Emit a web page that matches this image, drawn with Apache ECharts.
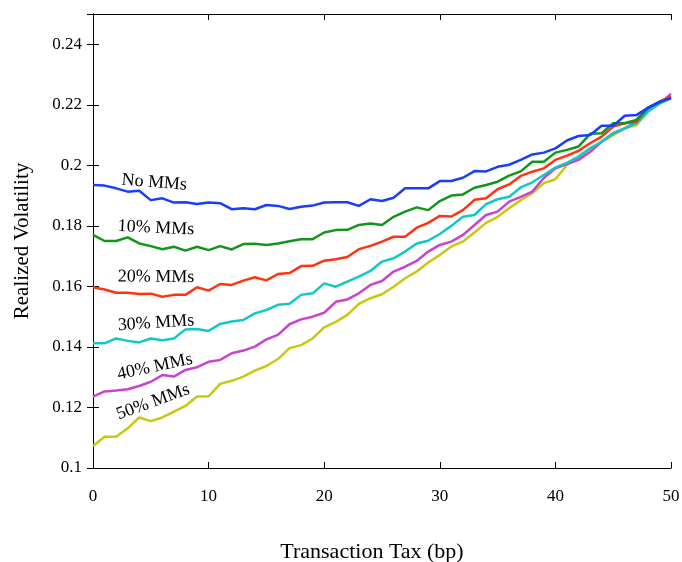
<!DOCTYPE html>
<html>
<head>
<meta charset="utf-8">
<script src="https://cdn.jsdelivr.net/npm/echarts@6/dist/echarts.min.js"></script>
<style>
html, body { margin: 0; padding: 0; background: #fff; }
#chart { width: 682px; height: 562px; }
</style>
</head>
<body>
<div id="chart"></div>
<script>
// transaction tax in bp, 0..50
const taxBp = [];
for (let i = 0; i <= 50; i++) taxBp.push(i);

const noMMs = [0.1935, 0.1933, 0.1924, 0.1913, 0.1916, 0.1885, 0.1891, 0.1877, 0.1878, 0.1872,
  0.1877, 0.1875, 0.1855, 0.1858, 0.1855, 0.1869, 0.1866, 0.1856, 0.1863, 0.1867,
  0.1877, 0.1878, 0.1878, 0.1866, 0.1888, 0.1882, 0.1893, 0.1924, 0.1924, 0.1924,
  0.1948, 0.1948, 0.1959, 0.1981, 0.1980, 0.1995, 0.2002, 0.2018, 0.2036, 0.2042,
  0.2056, 0.2082, 0.2097, 0.2100, 0.2131, 0.2131, 0.2164, 0.2166, 0.2190, 0.2210, 0.2222];
const mm10 = [0.1770, 0.1750, 0.1750, 0.1762, 0.1742, 0.1733, 0.1723, 0.1731, 0.1718, 0.1731,
  0.1720, 0.1733, 0.1722, 0.1740, 0.1741, 0.1737, 0.1742, 0.1749, 0.1756, 0.1756,
  0.1778, 0.1786, 0.1787, 0.1803, 0.1808, 0.1803, 0.1830, 0.1847, 0.1861, 0.1852,
  0.1882, 0.1900, 0.1904, 0.1926, 0.1935, 0.1946, 0.1966, 0.1980, 0.2012, 0.2012,
  0.2042, 0.2051, 0.2062, 0.2104, 0.2106, 0.2139, 0.2139, 0.2150, 0.2190, 0.2208, 0.2222];
const mm20 = [0.1597, 0.1590, 0.1579, 0.1579, 0.1575, 0.1576, 0.1566, 0.1572, 0.1572, 0.1597,
  0.1586, 0.1608, 0.1605, 0.1619, 0.1630, 0.1620, 0.1641, 0.1644, 0.1667, 0.1668,
  0.1685, 0.1690, 0.1697, 0.1723, 0.1734, 0.1748, 0.1764, 0.1764, 0.1794, 0.1810,
  0.1833, 0.1831, 0.1852, 0.1886, 0.1891, 0.1921, 0.1937, 0.1965, 0.1979, 0.1990,
  0.2018, 0.2032, 0.2048, 0.2073, 0.2095, 0.2128, 0.2139, 0.2144, 0.2190, 0.2210, 0.2227];
const mm30 = [0.1412, 0.1412, 0.1428, 0.1420, 0.1415, 0.1428, 0.1422, 0.1428, 0.1458, 0.1459,
  0.1453, 0.1476, 0.1484, 0.1489, 0.1511, 0.1522, 0.1539, 0.1543, 0.1572, 0.1577,
  0.1610, 0.1599, 0.1616, 0.1632, 0.1651, 0.1682, 0.1693, 0.1715, 0.1742, 0.1751,
  0.1773, 0.1800, 0.1830, 0.1836, 0.1872, 0.1888, 0.1896, 0.1927, 0.1944, 0.1968,
  0.1993, 0.2008, 0.2029, 0.2056, 0.2078, 0.2106, 0.2122, 0.2139, 0.2177, 0.2204, 0.2222];
const mm40 = [0.1236, 0.1253, 0.1256, 0.1260, 0.1271, 0.1285, 0.1307, 0.1302, 0.1324, 0.1333,
  0.1351, 0.1357, 0.1379, 0.1388, 0.1401, 0.1425, 0.1440, 0.1475, 0.1491, 0.1500,
  0.1513, 0.1549, 0.1557, 0.1577, 0.1605, 0.1618, 0.1649, 0.1665, 0.1684, 0.1715,
  0.1737, 0.1748, 0.1770, 0.1803, 0.1836, 0.1847, 0.1880, 0.1896, 0.1913, 0.1958,
  0.1990, 0.2004, 0.2018, 0.2044, 0.2078, 0.2106, 0.2122, 0.2144, 0.2180, 0.2204, 0.2236];
const mm50 = [0.1073, 0.1103, 0.1103, 0.1131, 0.1167, 0.1155, 0.1167, 0.1186, 0.1205, 0.1236,
  0.1237, 0.1278, 0.1288, 0.1302, 0.1322, 0.1337, 0.1360, 0.1396, 0.1406, 0.1428,
  0.1465, 0.1483, 0.1506, 0.1542, 0.1561, 0.1574, 0.1599, 0.1627, 0.1649, 0.1679,
  0.1704, 0.1732, 0.1748, 0.1778, 0.1810, 0.1830, 0.1858, 0.1885, 0.1908, 0.1941,
  0.1954, 0.2001, 0.2023, 0.2056, 0.2078, 0.2100, 0.2122, 0.2133, 0.2177, 0.2210, 0.2227];

const seriesNames = ['No MMs', '10% MMs', '20% MMs', '30% MMs', '40% MMs', '50% MMs'];
const seriesData = [noMMs, mm10, mm20, mm30, mm40, mm50];
const colors = ['#1a3cff', '#11951a', '#ff3311', '#11c8c8', '#c844d0', '#c8c811'];

// where the in-plot labels sit (data coords) and their tilt in degrees
const labelX = [5.3, 5.45, 5.45, 5.45, 5.35, 5.2];
const labelY = [0.1943, 0.1793, 0.1631, 0.1479, 0.1334, 0.1218];
const labelTilt = [-4.4, -2.5, -0.5, 3.7, 12, 20];

const font = 'Liberation Serif, Times New Roman, serif';

const chart = echarts.init(document.getElementById('chart'));

const axisLine = { show: true, lineStyle: { color: '#000', width: 1 } };
const tick = { show: true, inside: true, length: 6, lineStyle: { color: '#000' } };

chart.setOption({
  animation: false,
  backgroundColor: '#fff',
  grid: { left: 93, right: 11, top: 14, bottom: 94, outerBoundsMode: 'none' },
  xAxis: [{
    type: 'value', min: 0, max: 50, interval: 10,
    name: 'Transaction Tax (bp)', nameLocation: 'middle', nameGap: 73,
    nameTextStyle: { fontFamily: font, fontSize: 22, color: '#000', padding: [0, 20, 0, 0] },
    axisLine: axisLine, axisTick: tick, splitLine: { show: false },
    axisLabel: { color: '#000', fontFamily: font, fontSize: 17, margin: 20 }
  }, {
    type: 'value', min: 0, max: 50, interval: 10, position: 'top',
    axisLine: axisLine, axisTick: tick, splitLine: { show: false },
    axisLabel: { show: false }
  }],
  yAxis: [{
    type: 'value', min: 0.1, max: 0.25, interval: 0.02,
    name: 'Realized Volatility', nameLocation: 'middle', nameGap: 60,
    nameTextStyle: { fontFamily: font, fontSize: 21, color: '#000' },
    axisLine: axisLine, axisTick: tick, splitLine: { show: false },
    axisLabel: { color: '#000', fontFamily: font, fontSize: 17, margin: 11, showMaxLabel: false }
  }, {
    type: 'value', min: 0.1, max: 0.25, interval: 0.02, position: 'right',
    axisLine: axisLine, axisTick: tick, splitLine: { show: false },
    axisLabel: { show: false }
  }],
  series: seriesData.map((d, i) => ({
    name: seriesNames[i],
    type: 'line',
    data: d.map((v, j) => [taxBp[j], v]),
    showSymbol: false,
    lineStyle: { color: colors[i], width: 2.5 },
    z: 10 - i
  }))
});

// place the series names next to their curves
chart.setOption({
  graphic: seriesNames.map((n, i) => {
    const p = chart.convertToPixel({ xAxisIndex: 0, yAxisIndex: 0 }, [labelX[i], labelY[i]]);
    return {
      type: 'text',
      x: p[0], y: p[1],
      rotation: labelTilt[i] * Math.PI / 180,
      style: {
        text: n, fill: '#000', font: '18px ' + font,
        align: 'center', verticalAlign: 'middle'
      },
      z: 100
    };
  })
});
</script>
</body>
</html>
